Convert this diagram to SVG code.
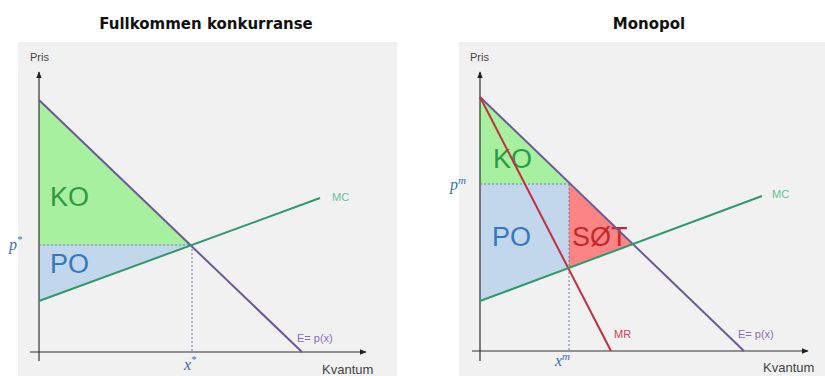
<svg xmlns="http://www.w3.org/2000/svg" width="825" height="376" viewBox="0 0 825 376">
<defs>
<style>
.bg{fill:#f1f1f1}
.title{font-family:"DejaVu Sans","Liberation Sans",sans-serif;font-weight:bold;font-size:15px;fill:#111;text-anchor:middle}
.lbl{font-family:"Liberation Sans",Arial,sans-serif;font-size:11px;fill:#444}
.kv{font-size:13px}
.lmc{fill:#5fc39a}
.ldem{fill:#8a6cc0}
.lmr{fill:#d04050}
.ax{stroke:#333;stroke-width:1.2;fill:none}
.dem{stroke:#6b5a95;stroke-width:2;fill:none}
.mc{stroke:#2e9a6a;stroke-width:2;fill:none}
.mr{stroke:#c0303e;stroke-width:2;fill:none}
.dash{stroke:#6a7fa8;stroke-width:1;stroke-dasharray:2,2;fill:none}
.ko{fill:#a6f0a0}
.po{fill:#c3d7ec}
.sot{fill:#fc8484}
.big{font-family:"Liberation Sans",Arial,sans-serif;font-size:27px}
.tko{fill:#2f9a44}
.tpo{fill:#3578bc}
.tsot{fill:#c42a2a}
.math{font-family:"Liberation Serif","Times New Roman",serif;font-style:italic;font-size:16px;fill:#3a6fb0}
</style>
<marker id="arr" viewBox="0 0 10 10" refX="9" refY="5" markerWidth="7" markerHeight="7" orient="auto-start-reverse" markerUnits="userSpaceOnUse">
<path d="M0,1 L10,5 L0,9 z" fill="#222"/>
</marker>
</defs>

<g id="left-panel">
<text class="title" x="206" y="29">Fullkommen konkurranse</text>
<rect class="bg" x="18" y="42" width="379" height="334"/>
<polygon class="ko" points="39,100 39,245 192,245"/>
<polygon class="po" points="39,245 192,245 39,301"/>
<text class="big tko" x="50" y="206">KO</text>
<text class="big tpo" x="50" y="273">PO</text>
</g>

<g id="right-panel">
<text class="title" x="649" y="29">Monopol</text>
<rect class="bg" x="459" y="42" width="366" height="334"/>
<polygon class="ko" points="480,97 480,184 569,184"/>
<polygon class="po" points="480,184 569,184 569,268 480,301"/>
<polygon class="sot" points="569,184 569,268 633,244"/>
<text class="big tko" x="493" y="168">KO</text>
<text class="big tpo" x="492" y="246">PO</text>
<text class="big tsot" x="572" y="246">SØT</text>
</g>

<g id="connectors">
<line class="ax" x1="39" y1="361" x2="39" y2="72" marker-end="url(#arr)"/>
<line class="ax" x1="30" y1="352" x2="366" y2="352" marker-end="url(#arr)"/>
<line class="dash" x1="39" y1="245" x2="192" y2="245"/>
<line class="dash" x1="192" y1="245" x2="192" y2="352"/>
<line class="dem" x1="39" y1="100" x2="302" y2="352"/>
<line class="mc" x1="39" y1="301" x2="320" y2="198"/>

<line class="ax" x1="480" y1="361" x2="480" y2="72" marker-end="url(#arr)"/>
<line class="ax" x1="472" y1="351" x2="808" y2="351" marker-end="url(#arr)"/>
<line class="dash" x1="480" y1="184" x2="569" y2="184"/>
<line class="dash" x1="569" y1="184" x2="569" y2="351"/>
<line class="dem" x1="480" y1="97" x2="744" y2="351"/>
<line class="mr" x1="480" y1="97" x2="611" y2="351"/>
<line class="mc" x1="480" y1="301" x2="762" y2="196"/>
</g>

<g id="labels">
<text class="lbl" x="30" y="61">Pris</text>
<text class="math" x="9" y="250">p<tspan font-size="10" dy="-7">*</tspan></text>
<text class="math" x="184" y="370">x<tspan font-size="10" dy="-7">*</tspan></text>
<text class="lbl kv" x="322" y="374">Kvantum</text>
<text class="lbl lmc" x="332" y="201">MC</text>
<text class="lbl ldem" x="297" y="342">E= p(x)</text>

<text class="lbl" x="470" y="61">Pris</text>
<text class="math" x="450" y="190">p<tspan font-size="11" dy="-6">m</tspan></text>
<text class="math" x="555" y="366">x<tspan font-size="11" dy="-6">m</tspan></text>
<text class="lbl kv" x="763" y="372">Kvantum</text>
<text class="lbl lmc" x="772" y="198">MC</text>
<text class="lbl lmr" x="614" y="338">MR</text>
<text class="lbl ldem" x="738" y="338">E= p(x)</text>
</g>
</svg>
